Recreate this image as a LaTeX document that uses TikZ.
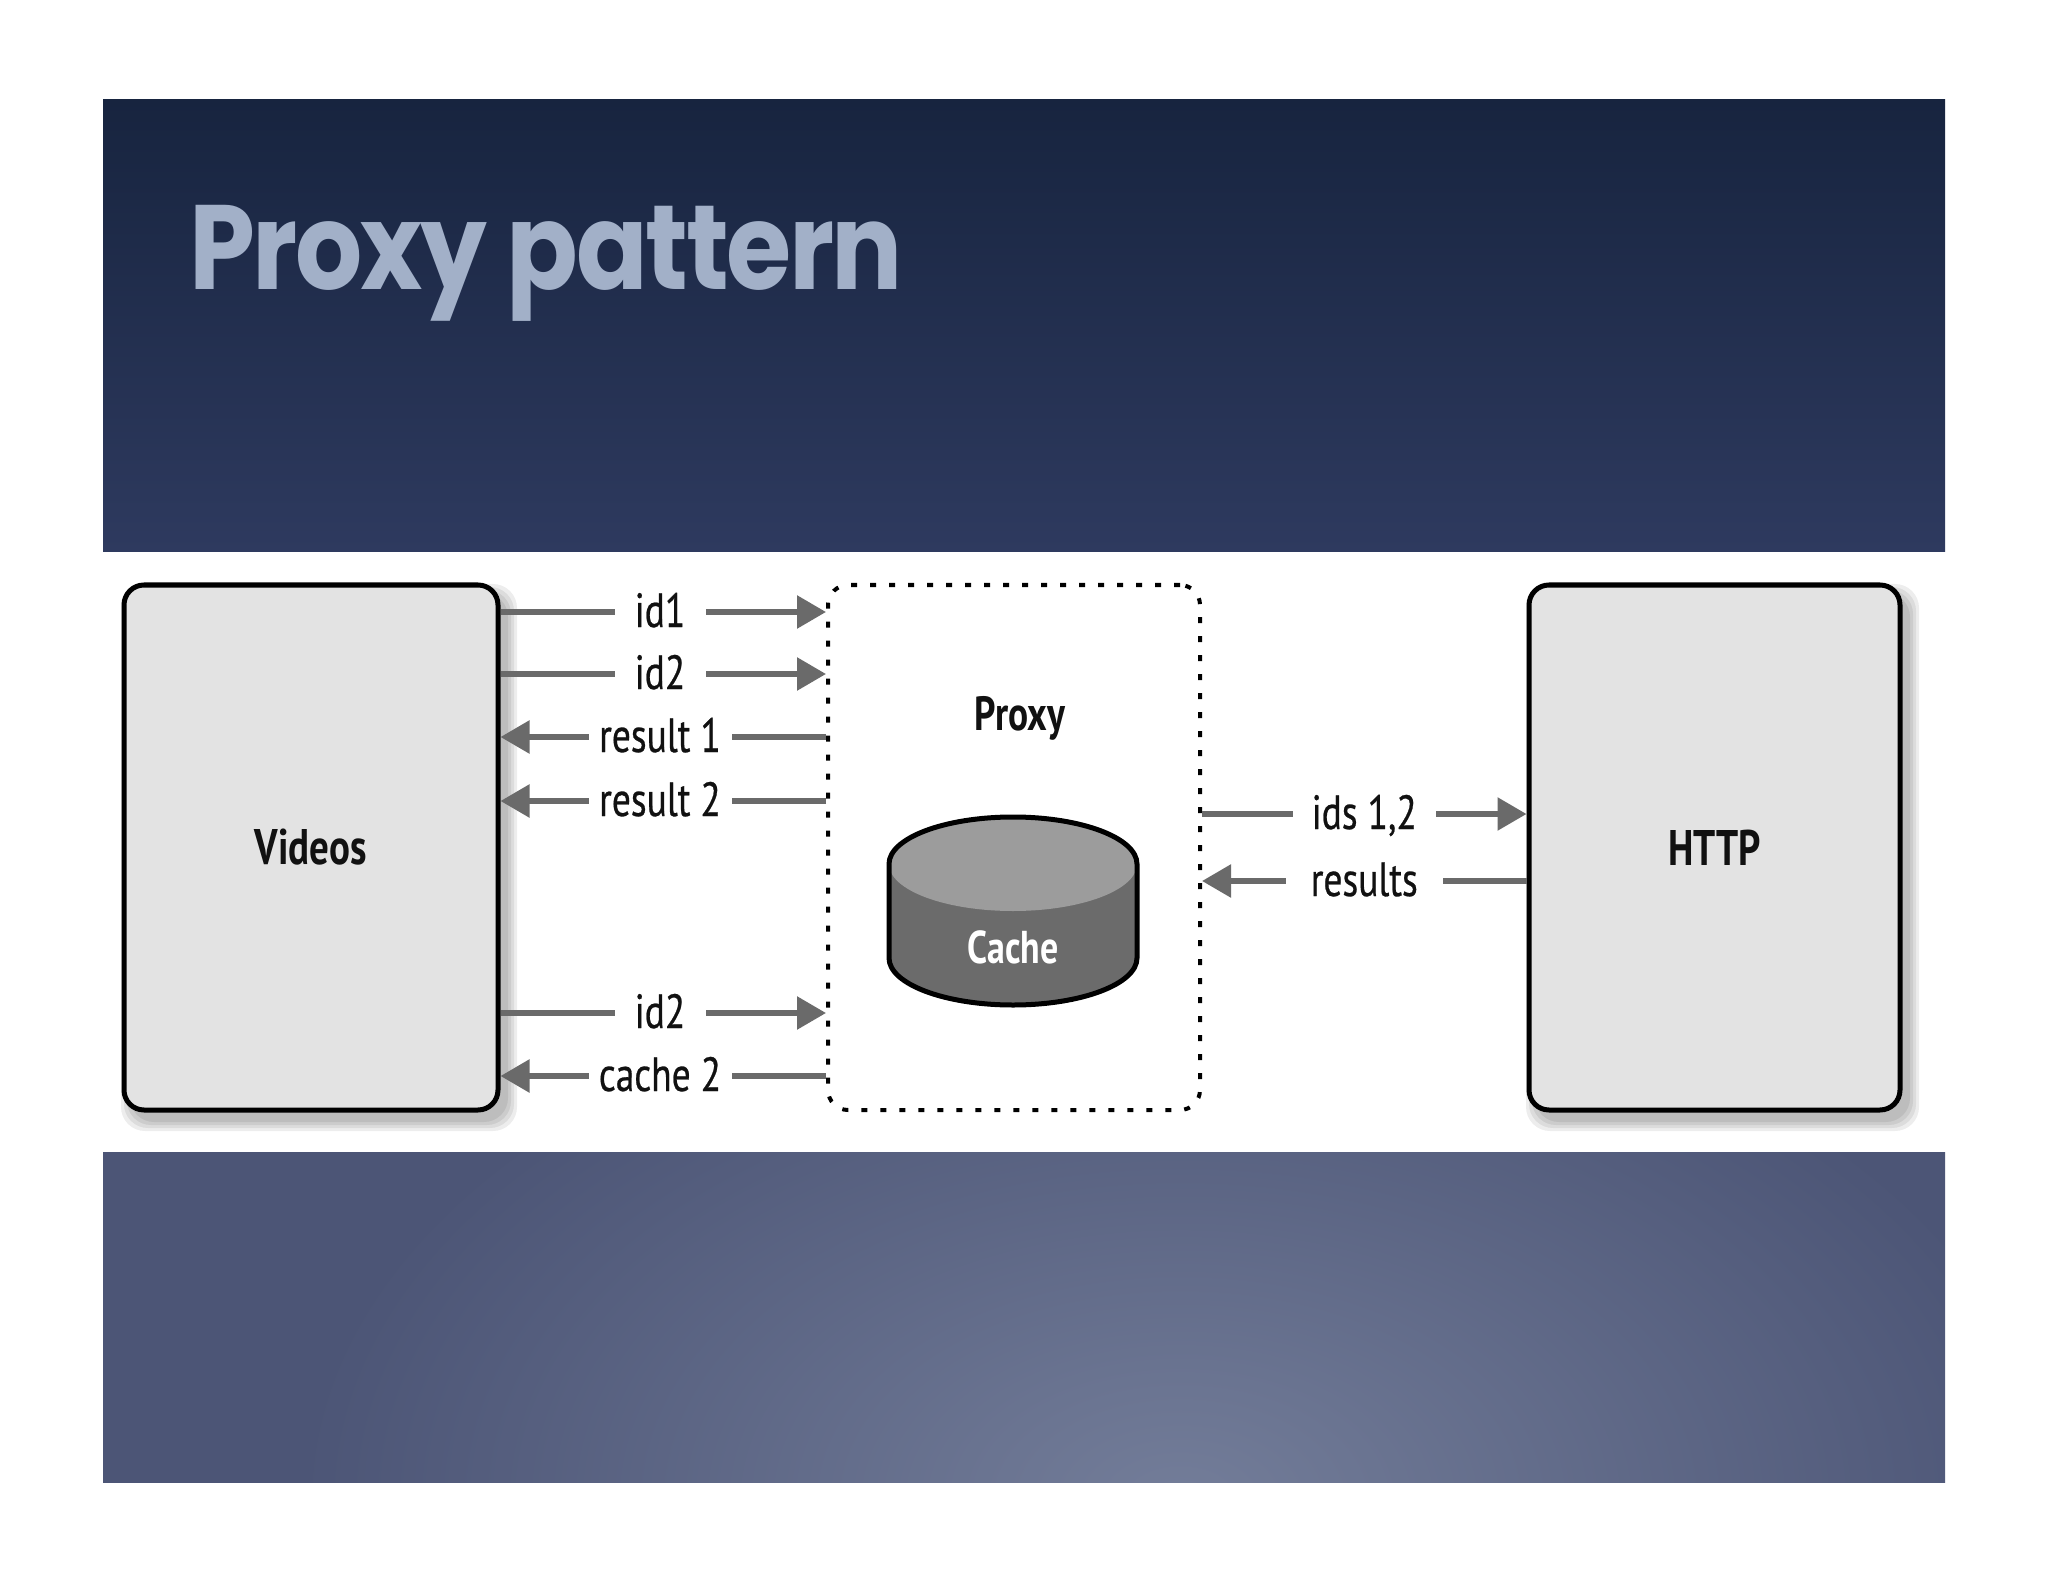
\documentclass[tikz,border=0pt]{standalone}
\usepackage{fontspec}
\setmainfont{PT Sans}
\newfontfamily\lblfont[FakeStretch=0.78,UprightFeatures={FakeBold=0.5}]{PT Sans}
\newfontfamily\titlefont[FakeStretch=0.88,LetterSpace=-2]{Poppins}
\usetikzlibrary{arrows.meta}
\definecolor{arrgray}{HTML}{6A6A6A}
\definecolor{boxgray}{HTML}{E3E3E3}
\definecolor{cachelight}{HTML}{9C9C9C}
\definecolor{cachedark}{HTML}{6B6B6B}
\definecolor{titlecol}{HTML}{A2B0C8}
\definecolor{topA}{HTML}{17243F}
\definecolor{topB}{HTML}{2E3A5F}
\definecolor{botA}{HTML}{4C5576}
\definecolor{botB}{HTML}{737D99}
\definecolor{labeltext}{HTML}{111111}
\pgfdeclareradialshading{bandglow}{\pgfpoint{0bp}{0bp}}{color(0bp)=(botB); color(15.7bp)=(botA); color(50bp)=(botA)}
\begin{document}
\begin{tikzpicture}[x=0.5pt,y=-0.5pt,
  box/.style={draw=black, line width=2.5pt, fill=boxgray, rounded corners=10pt,
    minimum width=#1, minimum height=262.5pt, inner sep=0pt,
    font=\lblfont\bfseries\fontsize{25}{30}\selectfont, text=labeltext},
  proxybox/.style={draw=black, line width=2pt, dash pattern=on 3pt off 6.5pt,
    rounded corners=10pt, minimum width=186pt, minimum height=262.5pt, inner sep=0pt},
  arr/.style={draw=arrgray, line width=2.8pt, -{Triangle[length=14.5pt,width=16pt]}},
  lbl/.style={fill=white, inner xsep=0pt, inner ysep=1pt, text height=15pt, text depth=0pt,
    font=\lblfont\fontsize{24}{28}\selectfont, text=labeltext, minimum width=#1},
  lbl/.default=45.5pt,
  shadowlayer/.style={fill=black, opacity=0.07, rounded corners=12pt}
]
\useasboundingbox (0,0) rectangle (2048,1582);
\fill[white] (0,0) rectangle (2048,1582);
% slide background bands
\shade[top color=topA, bottom color=topB] (103,100) rectangle (1945,552);
\begin{scope}
  \clip (103,1152) rectangle (1945,1482);
  \fill[botA] (103,1152) rectangle (1945,1482);
  \shade[shading=bandglow] (1180,1500) ellipse [x radius=1400, y radius=860];
\end{scope}
\node[anchor=base west, inner sep=0pt, text=titlecol,
  font=\titlefont\bfseries\fontsize{60}{72}\selectfont] (title) at (189,290) {Proxy pattern};
% shadows
\foreach \s in {2,5,8,11} {
  \fill[shadowlayer] (124+8-\s,585+10-\s) rectangle (498+8+\s,1110+10+\s);
  \fill[shadowlayer] (1529+8-\s,585+10-\s) rectangle (1900+8+\s,1110+10+\s);
}
% boxes
\node[box=187pt] (videos) at (311,847.5) {Videos};
\node[box=185.5pt] (http) at (1714.5,847.5) {HTTP};
\node[proxybox] (proxy) at (1014,847.5) {};
\node[inner sep=0pt, font=\lblfont\bfseries\fontsize{24}{28}\selectfont, text=labeltext]
  (proxylabel) at (1020,718) {Proxy};
% cache cylinder
\fill[cachedark] (889,864) -- (889,958) arc[start angle=180,end angle=0,x radius=124,y radius=47]
  -- (1137,864) arc[start angle=0,end angle=-180,x radius=124,y radius=47] -- cycle;
\fill[cachelight] (1013,864) ellipse [x radius=124, y radius=47];
\draw[line width=2.5pt, line join=round] (889,864) -- (889,958) arc[start angle=180,end angle=0,x radius=124,y radius=47]
  -- (1137,864) arc[start angle=0,end angle=-180,x radius=124,y radius=47] -- cycle;
\node[inner sep=0pt, font=\lblfont\bfseries\fontsize{23}{27}\selectfont, text=white]
  (cache) at (1013,947) {Cache};
% connectors Videos <-> Proxy
\draw[arr] (videos.east |- 0,612) -- node[lbl, pos=0.49] {id1} (proxy.west |- 0,612);
\draw[arr] (videos.east |- 0,674) -- node[lbl, pos=0.49] {id2} (proxy.west |- 0,674);
\draw[arr] (proxy.west |- 0,737) -- node[lbl=71.5pt, pos=0.51] {result 1} (videos.east |- 0,737);
\draw[arr] (proxy.west |- 0,801) -- node[lbl=71.5pt, pos=0.51] {result 2} (videos.east |- 0,801);
\draw[arr] (videos.east |- 0,1013) -- node[lbl, pos=0.49] {id2} (proxy.west |- 0,1013);
\draw[arr] (proxy.west |- 0,1076) -- node[lbl=71.5pt, pos=0.51] {cache 2} (videos.east |- 0,1076);
% connectors Proxy <-> HTTP
\draw[arr] (proxy.east |- 0,814) -- node[lbl=71.5pt] {ids 1,2} (http.west |- 0,814);
\draw[arr] (http.west |- 0,881) -- node[lbl=78.5pt] {results} (proxy.east |- 0,881);
\end{tikzpicture}
\end{document}
